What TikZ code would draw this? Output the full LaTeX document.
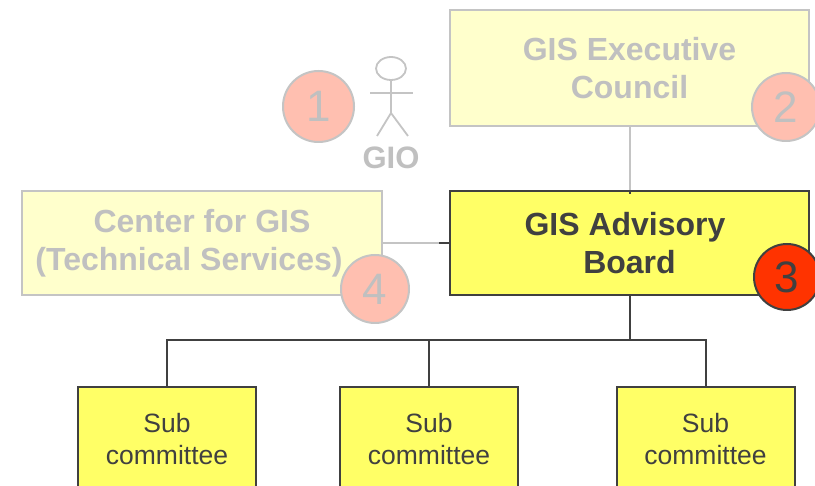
\documentclass[tikz,border=0pt]{standalone}
\usepackage{fontspec}
\setmainfont{Liberation Sans}
\definecolor{paleyel}{HTML}{FFFFCC}
\definecolor{paleline}{HTML}{C4C4C4}
\definecolor{paletext}{HTML}{C0C0C0}
\definecolor{yel}{HTML}{FFFF66}
\definecolor{dk}{HTML}{404040}
\definecolor{pink}{HTML}{FFBFB0}
\definecolor{redc}{HTML}{FF3300}
\tikzset{
  palebox/.style={draw=paleline, fill=paleyel, line width=2pt, text=paletext, font=\fontsize{32}{38}\selectfont\bfseries, align=center, inner sep=0pt},
  advbox/.style={draw=dk, fill=yel, line width=2pt, text=dk, font=\fontsize{32}{38}\selectfont\bfseries, align=center, inner sep=0pt},
  subbox/.style={draw=dk, fill=yel, line width=2pt, text=dk, font=\fontsize{26.5}{32}\selectfont, align=center, inner sep=0pt, minimum width=178pt, minimum height=104pt, anchor=north},
  pinkcirc/.style={circle, draw=paleline, fill=pink, line width=2pt, text=paletext, font=\fontsize{44}{44}\selectfont, minimum size=68pt, inner sep=0pt},
  redcirc/.style={circle, draw=dk, fill=redc, line width=2pt, text=dk, font=\fontsize{44}{44}\selectfont, minimum size=66pt, inner sep=0pt},
  paleconn/.style={draw=paleline, line width=2pt},
  dkconn/.style={draw=dk, line width=2pt},
  stick/.style={draw=paleline, line width=1.8pt}
}
\begin{document}
\begin{tikzpicture}[x=1pt,y=-1pt]
\clip (0,0) rectangle (815,486);
\fill[white] (0,0) rectangle (815,486);
% boxes
\node[palebox, minimum width=359pt, minimum height=116pt] (exec) at (629.5,68) {GIS Executive\\Council};
\node[advbox, minimum width=359pt, minimum height=104pt] (adv) at (629.5,243) {GIS Advisory\hspace*{9pt}\\Board};
\node[palebox, minimum width=360pt, minimum height=104pt] (cgis) at (202,243) {Center for GIS\\(Technical Services)\hspace*{26pt}};
\node[subbox] (s1) at (167,386) {Sub\\committee};
\node[subbox] (s2) at (429,386) {Sub\\committee};
\node[subbox] (s3) at (705.5,386) {Sub\\committee};
% connectors
\draw[paleconn] (exec.south) -- (adv.north);
\draw[dkconn] ([yshift=-4pt]adv.north) -- (adv.north);
\draw[paleconn] (cgis.east) -- (adv.west);
\draw[dkconn] ([xshift=-10pt]adv.west) -- (adv.west);
\coordinate (j) at (629.5,340);
\draw[dkconn] (adv.south) -- (j);
\draw[dkconn] (s1.north) |- (j) -| (s3.north);
\draw[dkconn] (s2.north) -- (s2.north |- j);
% GIO stick figure
\draw[stick] (391,68.5) ellipse [x radius=15, y radius=11.5];
\coordinate (neck) at (391,80);
\coordinate (hip) at (391,113);
\draw[stick] (neck) -- (hip);
\draw[stick] (370,93) -- (413,93);
\draw[stick] (377,136) -- (hip) -- (408,136);
\node[text=paletext, font=\fontsize{31}{31}\selectfont\bfseries, inner sep=0pt] (gio) at (391,158) {GIO};
% number circles
\node[pinkcirc, minimum width=71pt] (n1) at (318.5,106.5) {1};
\node[pinkcirc] (n2) at (786,107) {2};
\node[redcirc] (n3) at (787,277) {3};
\node[pinkcirc] (n4) at (375,289) {4};
\end{tikzpicture}
\end{document}
